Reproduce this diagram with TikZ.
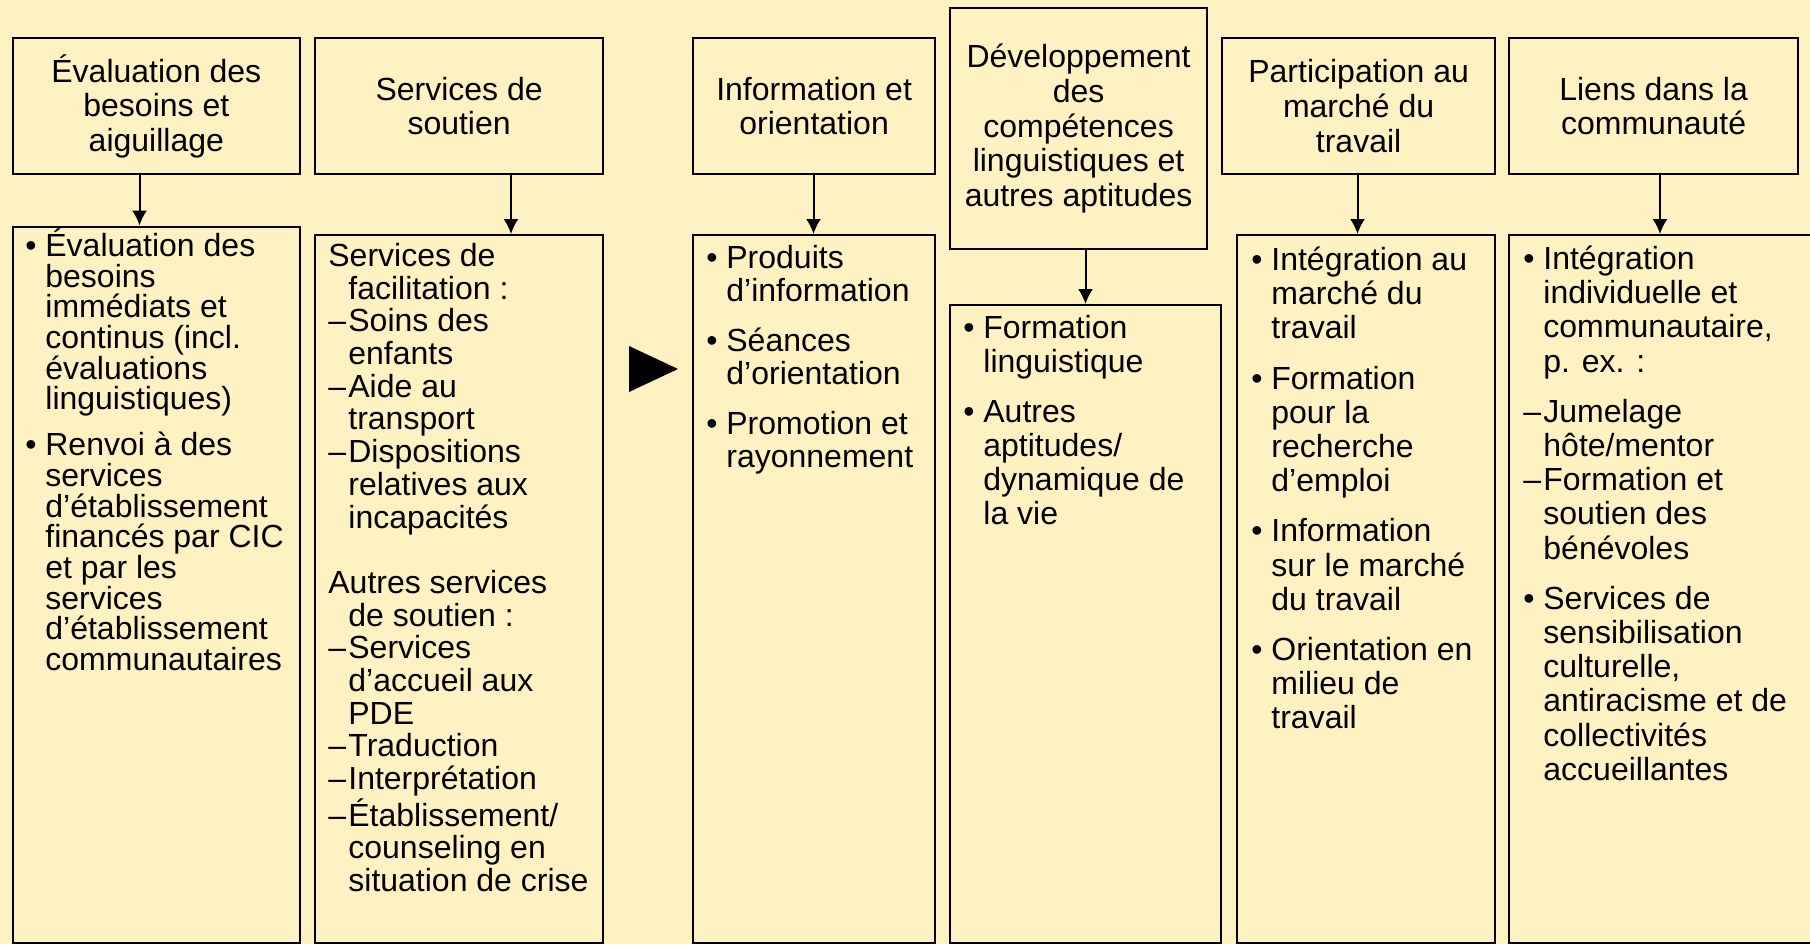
\documentclass[tikz,border=0pt]{standalone}
\usepackage{fontspec}
\setmainfont{Liberation Sans}
\usetikzlibrary{arrows.meta,positioning}
\definecolor{paleyellow}{RGB}{255,242,194}
\newlength{\indw}
\setlength{\indw}{10pt}
\newcommand{\itembul}{\makebox[\indw][l]{•}}
\newcommand{\itemdash}{\makebox[\indw][l]{–}}
\newcommand{\itemind}{\hspace*{\indw}}
\newcommand{\firstline}{\rule{0pt}{16pt}}
\tikzset{
headbox/.style={
  draw,
  line width=1.1pt,
  align=center,
  inner sep=0pt,
  anchor=north west,
  font=\fontsize{16}{17.3}\selectfont
  },
listbox/.style={
  draw,
  line width=1.1pt,
  inner sep=0pt,
  anchor=north west
  },
listtext/.style={
  align=left,
  inner sep=0pt,
  anchor=north west,
  font=\fontsize{16}{#1}\selectfont
  },
conn/.style={
  -{Latex[length=7.5pt,width=7.5pt]},
  line width=1pt
  }
}
\begin{document}
\begin{tikzpicture}[x=0.5pt,y=-0.5pt]
\path[use as bounding box,fill=paleyellow] (0,0) rectangle (1810,944);

\node[headbox,minimum width=143.75pt,minimum height=68pt] (t1) at (11.5,37) {Évaluation des\\besoins et\\aiguillage};
\node[headbox,minimum width=144pt,minimum height=68pt] (t2) at (314,37) {Services de\\soutien};
\node[headbox,minimum width=121pt,minimum height=68pt] (t3) at (692,37) {Information et\\orientation};
\node[headbox,minimum width=128.5pt,minimum height=120.5pt] (t4) at (949,7) {Développement\\des\\compétences\\linguistiques et\\autres aptitudes};
\node[headbox,minimum width=136.5pt,minimum height=68pt] (t5) at (1221,37) {Participation au\\marché du\\travail};
\node[headbox,minimum width=144.5pt,minimum height=68pt] (t6) at (1508,37) {Liens dans la\\communauté};

\node[listbox,minimum width=143.75pt,minimum height=358.25pt] (l1) at (11.5,225.5) {};
\node[listbox,minimum width=144pt,minimum height=354pt] (l2) at (314,234) {};
\node[listbox,minimum width=121pt,minimum height=354pt] (l3) at (692,234) {};
\node[listbox,minimum width=135.5pt,minimum height=319pt] (l4) at (949,304) {};
\node[listbox,minimum width=129pt,minimum height=354pt] (l5) at (1236,234) {};
\node[listbox,minimum width=160pt,minimum height=354pt] (l6) at (1508,234) {};

\node[listtext=15.35pt] (l1t) at (25,224) {\firstline\itembul Évaluation des\\ \itemind besoins\\ \itemind immédiats et\\ \itemind continus (incl.\\ \itemind évaluations\\ \itemind linguistiques)\\[7.5pt]
  \itembul Renvoi à des\\ \itemind services\\ \itemind d’établissement\\ \itemind financés par CIC\\ \itemind et par les\\ \itemind services\\ \itemind d’établissement\\ \itemind communautaires};
\node[listtext=16.35pt] (l2t) at (328,234) {\firstline Services de\\ \itemind facilitation :\\ \itemdash Soins des\\ \itemind enfants\\ \itemdash Aide au\\ \itemind transport\\ \itemdash Dispositions\\ \itemind relatives aux\\ \itemind incapacités\\[16.35pt]
  Autres services\\ \itemind de soutien :\\ \itemdash Services\\ \itemind d’accueil aux\\ \itemind PDE\\ \itemdash Traduction\\ \itemdash Interprétation\\ \itemdash Établissement/\\ \itemind counseling en\\ \itemind situation de crise};
\node[listtext=16.75pt] (l3t) at (706,236) {\firstline\itembul Produits\\ \itemind d’information\\[8pt]
  \itembul Séances\\ \itemind d’orientation\\[8pt]
  \itembul Promotion et\\ \itemind rayonnement};
\node[listtext=17pt] (l4t) at (963,306) {\firstline\itembul Formation\\ \itemind linguistique\\[8pt]
  \itembul Autres\\ \itemind aptitudes/\\ \itemind dynamique de\\ \itemind la vie};
\node[listtext=17.1pt] (l5t) at (1251,238) {\firstline\itembul Intégration au\\ \itemind marché du\\ \itemind travail\\[8pt]
  \itembul Formation\\ \itemind pour la\\ \itemind recherche\\ \itemind d’emploi\\[8pt]
  \itembul Information\\ \itemind sur le marché\\ \itemind du travail\\[8pt]
  \itembul Orientation en\\ \itemind milieu de\\ \itemind travail};
\node[listtext=17.1pt] (l6t) at (1523,237) {\firstline\itembul Intégration\\ \itemind individuelle et\\ \itemind communautaire,\\ \itemind p. ex. :\\[8pt]
  \itemdash Jumelage\\ \itemind hôte/mentor\\ \itemdash Formation et\\ \itemind soutien des\\ \itemind bénévoles\\[8pt]
  \itembul Services de\\ \itemind sensibilisation\\ \itemind culturelle,\\ \itemind antiracisme et de\\ \itemind collectivités\\ \itemind accueillantes};

\foreach \n/\x in {1/139.5,2/511,3/813.5,4/1085.5,5/1357.5,6/1660}{
  \coordinate (a\n) at (\x,0);
  \draw[conn] (t\n.south -| a\n) -- (l\n.north -| a\n);
}

\fill (629,346) -- (678,369) -- (629,392) -- cycle;
\end{tikzpicture}
\end{document}
